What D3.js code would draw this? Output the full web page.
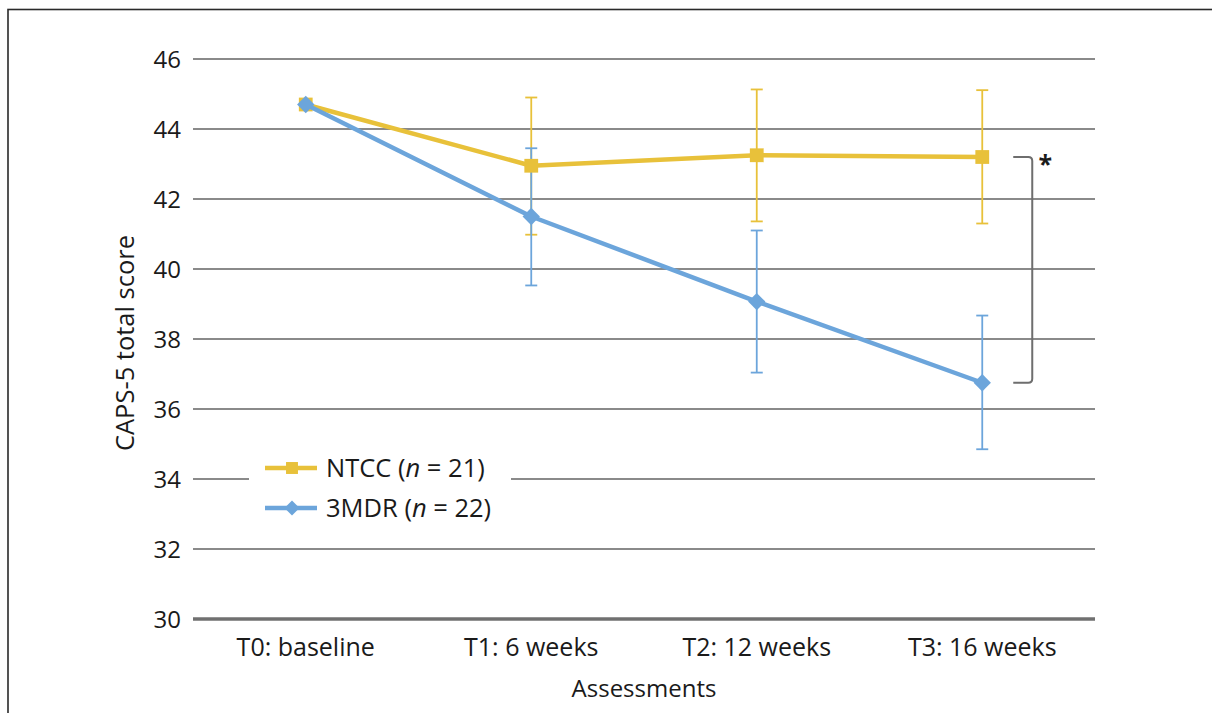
<!DOCTYPE html>
<html>
<head>
<meta charset="utf-8">
<script src="https://cdn.jsdelivr.net/npm/d3@7"></script>
<style>
	body { margin: 0; background: #fff; }
	svg { display: block; font-family: "Open Sans", "Noto Sans", sans-serif; }
</style>
</head>
<body>
<svg id="svg1"></svg>
<script>
// assessments on the x axis
categories = ["T0: baseline", "T1: 6 weeks", "T2: 12 weeks", "T3: 16 weeks"];
y_ticks = [30, 32, 34, 36, 38, 40, 42, 44, 46];

// NTCC (n = 21)
ntcc_mean = [44.7, 42.95, 43.25, 43.2];
ntcc_upper = [null, 44.9, 45.13, 45.11];
ntcc_lower = [null, 40.98, 41.36, 41.3];

// 3MDR (n = 22)
mdr_mean = [44.7, 41.5, 39.07, 36.75];
mdr_upper = [null, 43.45, 41.1, 38.67];
mdr_lower = [null, 39.53, 37.04, 34.85];

series_names = ["NTCC", "3MDR"];
series_n = [21, 22];

function draw_chart() {
	console.log("draw_chart:Begin")

	settings = {
		width : 1212,
		height : 713,
		left : 193,
		right : 1095,
		top : 59,
		bottom : 619
	}

	colors = {
		NTCC : "#E8C13A",
		"3MDR" : "#6CA5DB",
		grid : "#8a8a8a",
		text : "#1a1a1a"
	}

	svg = d3.select("#svg1")
		.attr("width", settings.width)
		.attr("height", settings.height)

	// frame round the figure
	svg.append("rect")
		.attr("x", 8).attr("y", 9.5)
		.attr("width", 1300).attr("height", 800)
		.attr("fill", "none")
		.attr("stroke", "#2a2a2a")
		.attr("stroke-width", 1.6)

	var x = d3.scalePoint().domain(categories).range([settings.left, settings.right]).padding(0.5);
	var y = d3.scaleLinear().domain([30, 46]).range([settings.bottom, settings.top]);

	// gridlines
	svg.append("g")
		.selectAll("line")
		.data(y_ticks)
		.enter().append("line")
		.attr("x1", settings.left)
		.attr("x2", settings.right)
		.attr("y1", d => y(d))
		.attr("y2", d => y(d))
		.attr("stroke", d => d == 30 ? "#707070" : colors.grid)
		.attr("stroke-width", d => d == 30 ? 3.5 : 2)

	// y tick labels
	svg.append("g")
		.selectAll("text")
		.data(y_ticks)
		.enter().append("text")
		.attr("x", 181)
		.attr("y", d => y(d))
		.attr("dy", "0.36em")
		.attr("text-anchor", "end")
		.attr("font-size", 24)
		.attr("fill", colors.text)
		.text(d => d)

	// x tick labels
	svg.append("g")
		.selectAll("text")
		.data(categories)
		.enter().append("text")
		.attr("x", d => x(d))
		.attr("y", 656)
		.attr("text-anchor", "middle")
		.attr("font-size", 25)
		.attr("fill", colors.text)
		.text(d => d)

	// axis titles
	svg.append("text")
		.attr("x", 644).attr("y", 697)
		.attr("text-anchor", "middle")
		.attr("font-size", 24)
		.attr("fill", colors.text)
		.text("Assessments")

	svg.append("text")
		.attr("transform", "translate(134," + ((settings.top + settings.bottom) / 2 + 4) + ") rotate(-90)")
		.attr("text-anchor", "middle")
		.attr("font-size", 25.5)
		.attr("fill", colors.text)
		.text("CAPS-5 total score")

	all_series = [
		{ name : "NTCC", mean : ntcc_mean, upper : ntcc_upper, lower : ntcc_lower, rotate : 0, size : 190 },
		{ name : "3MDR", mean : mdr_mean, upper : mdr_upper, lower : mdr_lower, rotate : 45, size : 150 }
	]

	var line = d3.line().x((d, i) => x(categories[i])).y(d => y(d));

	all_series.forEach(function (s) {
		g = svg.append("g")

		// error bars
		bars = s.mean.map((d, i) => [categories[i], s.lower[i], s.upper[i]]).filter(d => d[1] != null)
		g.selectAll("line.err")
			.data(bars)
			.enter().append("line")
			.attr("x1", d => x(d[0])).attr("x2", d => x(d[0]))
			.attr("y1", d => y(d[1])).attr("y2", d => y(d[2]))
			.attr("stroke", colors[s.name]).attr("stroke-width", 1.8)
		g.selectAll("line.cap")
			.data(bars.flatMap(d => [[d[0], d[1]], [d[0], d[2]]]))
			.enter().append("line")
			.attr("x1", d => x(d[0]) - 6).attr("x2", d => x(d[0]) + 6)
			.attr("y1", d => y(d[1])).attr("y2", d => y(d[1]))
			.attr("stroke", colors[s.name]).attr("stroke-width", 1.8)
	})

	all_series.forEach(function (s) {
		g = svg.append("g")
		g.append("path")
			.datum(s.mean)
			.attr("d", line)
			.attr("fill", "none")
			.attr("stroke", colors[s.name])
			.attr("stroke-width", 4.5)
			.attr("stroke-linejoin", "round")

		// square markers, turned 45 degrees for the diamonds
		g.selectAll("path.mark")
			.data(s.mean)
			.enter().append("path")
			.attr("transform", (d, i) => "translate(" + x(categories[i]) + "," + y(d) + ") rotate(" + s.rotate + ")")
			.attr("d", d3.symbol().type(d3.symbolSquare).size(s.size))
			.attr("fill", colors[s.name])
	})

	// significance bracket between the T3 means
	var bx = x(categories[3]) + 31;
	var top_y = y(ntcc_mean[3]);
	var bot_y = y(mdr_mean[3]);
	var r = 4;
	svg.append("path")
		.attr("d", "M" + bx + "," + top_y + " H" + (bx + 19 - r) + " Q" + (bx + 19) + "," + top_y + " " + (bx + 19) + "," + (top_y + r)
			+ " V" + (bot_y - r) + " Q" + (bx + 19) + "," + bot_y + " " + (bx + 19 - r) + "," + bot_y + " H" + bx)
		.attr("fill", "none")
		.attr("stroke", "#6e6e6e")
		.attr("stroke-width", 2)
	svg.append("text")
		.attr("x", bx + 32).attr("y", top_y + 16)
		.attr("text-anchor", "middle")
		.attr("font-size", 25)
		.attr("font-weight", "bold")
		.attr("fill", colors.text)
		.text("*")

	// legend
	legend = svg.append("g")
	legend.append("rect")
		.attr("x", 249).attr("y", 452)
		.attr("width", 262).attr("height", 74)
		.attr("fill", "#fff")

	legend_rows = legend.selectAll("g")
		.data(all_series)
		.enter().append("g")
		.attr("transform", (d, i) => "translate(0," + (468 + i * 40) + ")")
	legend_rows.append("line")
		.attr("x1", 265).attr("x2", 317)
		.attr("stroke", d => colors[d.name])
		.attr("stroke-width", 4.5)
	legend_rows.append("path")
		.attr("transform", d => "translate(292,0) rotate(" + d.rotate + ")")
		.attr("d", d => d3.symbol().type(d3.symbolSquare).size(d.size * 0.75)())
		.attr("fill", d => colors[d.name])
	label = legend_rows.append("text")
		.attr("x", 326)
		.attr("dy", "0.36em")
		.attr("font-size", 25.5)
		.attr("fill", colors.text)
	label.append("tspan").text((d, i) => d.name + " (")
	label.append("tspan").attr("font-style", "italic").text("n")
	label.append("tspan").text((d, i) => " = " + series_n[i] + ")")

	console.log("draw_chart:End")
}

draw_chart();
</script>
</body>
</html>
